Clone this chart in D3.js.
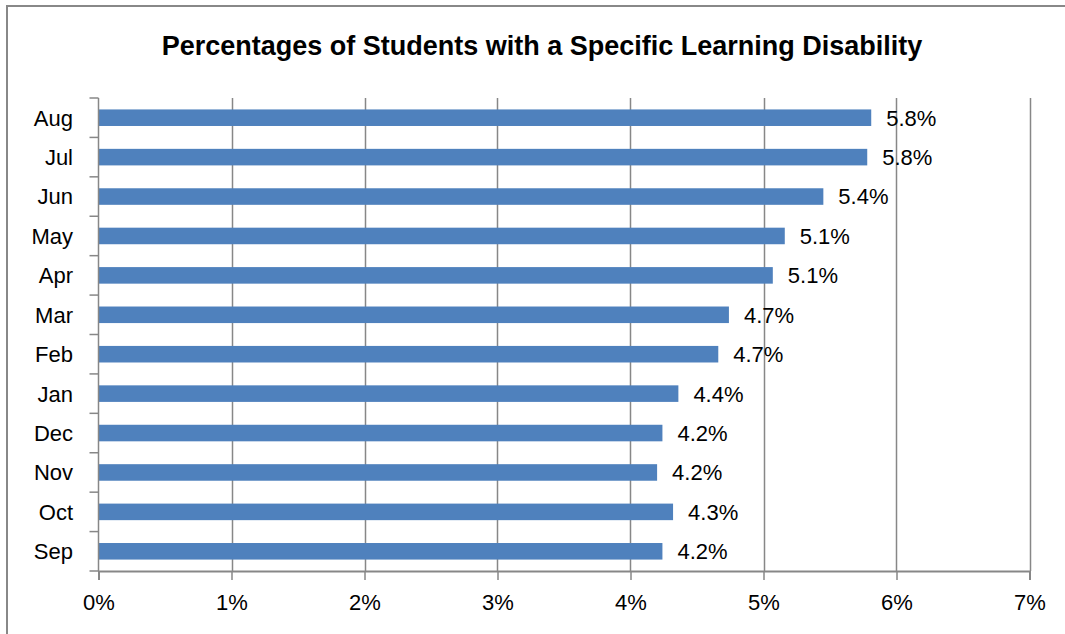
<!DOCTYPE html>
<html>
<head>
<meta charset="utf-8">
<script src="https://cdn.jsdelivr.net/npm/d3@7"></script>
<style>
  body { margin: 0; background: #fff; }
  svg { display: block; font-family: "Liberation Sans", Arial, sans-serif; }
</style>
</head>
<body>
<svg id="chart" width="1065" height="634"></svg>
<script>
// months, top to bottom as drawn
const months = ["Aug", "Jul", "Jun", "May", "Apr", "Mar", "Feb", "Jan", "Dec", "Nov", "Oct", "Sep"];
const percentages = [5.81, 5.78, 5.45, 5.16, 5.07, 4.74, 4.66, 4.36, 4.24, 4.20, 4.32, 4.24];
const valueLabels = ["5.8%", "5.8%", "5.4%", "5.1%", "5.1%", "4.7%", "4.7%", "4.4%", "4.2%", "4.2%", "4.3%", "4.2%"];
const xTicks = [0, 1, 2, 3, 4, 5, 6, 7];
const title = "Percentages of Students with a Specific Learning Disability";

const svg = d3.select("#chart");
const gridColor = "#878787";
const barColor = "#4f81bd";

// outer chart frame (only top and left edges fall inside the picture)
svg.append("rect")
  .attr("x", 7).attr("y", 6)
  .attr("width", 1100).attr("height", 700)
  .attr("fill", "none")
  .attr("stroke", "#888")
  .attr("stroke-width", 2);

svg.append("text")
  .attr("x", 542)
  .attr("y", 55)
  .attr("text-anchor", "middle")
  .attr("font-size", 27)
  .attr("font-weight", "bold")
  .attr("fill", "#000")
  .text(title);

const plot = { left: 98.5, right: 1029.5, top: 98, bottom: 571 };

const x = d3.scaleLinear().domain([0, 7]).range([plot.left, plot.right]);
const y = d3.scaleBand().domain(months).range([plot.top, plot.bottom]).paddingInner(0.58).paddingOuter(0.29);

// vertical gridlines
svg.append("g")
  .selectAll("line")
  .data(xTicks.slice(1))
  .join("line")
  .attr("x1", (d) => Math.round(x(d)) + 0.5)
  .attr("x2", (d) => Math.round(x(d)) + 0.5)
  .attr("y1", plot.top)
  .attr("y2", plot.bottom)
  .attr("stroke", gridColor)
  .attr("stroke-width", 1.5);

// bars
svg.append("g")
  .selectAll("rect")
  .data(months)
  .join("rect")
  .attr("x", x(0))
  .attr("y", (d) => y(d))
  .attr("width", (d, i) => x(percentages[i]) - x(0))
  .attr("height", y.bandwidth())
  .attr("fill", barColor);

// value labels
svg.append("g")
  .selectAll("text")
  .data(months)
  .join("text")
  .attr("x", (d, i) => x(percentages[i]) + 15)
  .attr("y", (d) => y(d) + y.bandwidth() / 2)
  .attr("dy", "0.36em")
  .attr("font-size", 22)
  .attr("fill", "#000")
  .text((d, i) => valueLabels[i]);

// x axis
const xAxis = svg.append("g")
  .attr("transform", `translate(0,${plot.bottom})`)
  .call(d3.axisBottom(x).tickValues(xTicks).tickFormat((d) => d + "%").tickSize(9).tickPadding(14));
xAxis.select(".domain").attr("stroke", gridColor).attr("stroke-width", 2);
xAxis.selectAll(".tick line").attr("stroke", gridColor).attr("stroke-width", 1.5);
xAxis.selectAll(".tick text").attr("font-size", 22).attr("fill", "#000").attr("font-family", "Liberation Sans, Arial, sans-serif");

// y axis: ticks between categories
const yAxisG = svg.append("g");
yAxisG.append("line")
  .attr("x1", plot.left).attr("x2", plot.left)
  .attr("y1", plot.top).attr("y2", plot.bottom)
  .attr("stroke", gridColor)
  .attr("stroke-width", 1.5);
const step = y.step();
yAxisG.selectAll("line.tick")
  .data(d3.range(months.length + 1))
  .join("line")
  .attr("class", "tick")
  .attr("x1", plot.left - 9).attr("x2", plot.left)
  .attr("y1", (i) => plot.top + i * step)
  .attr("y2", (i) => plot.top + i * step)
  .attr("stroke", gridColor)
  .attr("stroke-width", 1.5);
yAxisG.selectAll("text")
  .data(months)
  .join("text")
  .attr("x", 73)
  .attr("y", (d) => y(d) + y.bandwidth() / 2)
  .attr("dy", "0.36em")
  .attr("text-anchor", "end")
  .attr("font-size", 22)
  .attr("fill", "#000")
  .text((d) => d);
</script>
</body>
</html>
